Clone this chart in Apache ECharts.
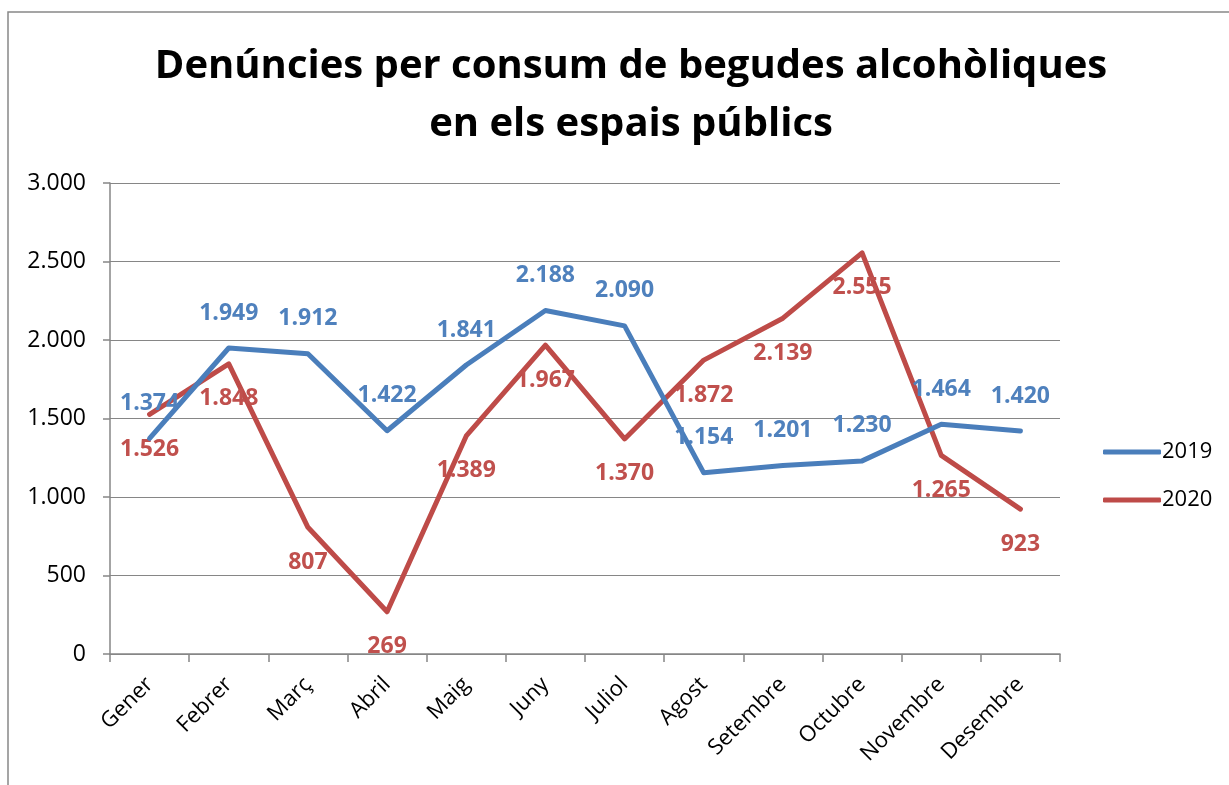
<!DOCTYPE html>
<html>
<head>
<meta charset="utf-8">
<script src="https://cdn.jsdelivr.net/npm/echarts@6/dist/echarts.min.js"></script>
<style>
  html, body { margin: 0; padding: 0; background: #fff; }
  #chart { width: 1229px; height: 785px; }
</style>
</head>
<body>
<div id="chart"></div>
<script>
// mesos
const months = ['Gener', 'Febrer', 'Març', 'Abril', 'Maig', 'Juny', 'Juliol', 'Agost', 'Setembre', 'Octubre', 'Novembre', 'Desembre']
// denúncies per any
const values2019 = [1374, 1949, 1912, 1422, 1841, 2188, 2090, 1154, 1201, 1230, 1464, 1420]
const values2020 = [1526, 1848, 807, 269, 1389, 1967, 1370, 1872, 2139, 2555, 1265, 923]

const font = 'Open Sans'
const fmt = v => String(v).replace(/\B(?=(\d{3})+(?!\d))/g, '.')

const myChart = echarts.init(document.getElementById('chart'))
const option = {
  animation: false,
  textStyle: { fontFamily: font },
  graphic: [{
    type: 'rect',
    shape: { x: 8, y: 12, width: 1400, height: 900 },
    style: { fill: 'none', stroke: '#888', lineWidth: 1.5 },
    silent: true
  }],
  title: {
    text: 'Denúncies per consum de begudes alcohòliques\nen els espais públics',
    left: 626,
    top: 33,
    textAlign: 'center',
    textStyle: {
      fontFamily: font,
      fontWeight: 'bold',
      fontSize: 40,
      lineHeight: 58,
      color: '#000'
    }
  },
  legend: {
    orient: 'vertical',
    left: 1098,
    top: 436,
    icon: 'roundRect',
    itemWidth: 58,
    itemHeight: 5,
    itemGap: 26,
    data: ['2019', '2020'],
    textStyle: { fontFamily: font, fontSize: 22, color: '#000', padding: [0, 0, 0, -4] }
  },
  grid: { left: 110, right: 169, top: 183, bottom: 131, containLabel: false },
  xAxis: {
    type: 'category',
    data: months,
    boundaryGap: true,
    axisLine: { lineStyle: { color: '#868686', width: 1.5 } },
    axisTick: { show: true, length: 8, interval: 0, lineStyle: { color: '#868686', width: 1.5 } },
    axisLabel: { rotate: 45, interval: 0, fontSize: 22, color: '#000', fontFamily: font, margin: 27 }
  },
  yAxis: {
    type: 'value',
    min: 0,
    max: 3000,
    interval: 500,
    axisLine: { show: true, lineStyle: { color: '#868686', width: 1.5 } },
    axisTick: { show: true, length: 7, lineStyle: { color: '#868686', width: 1.5 } },
    splitLine: { lineStyle: { color: '#868686', width: 1.2 } },
    axisLabel: { fontSize: 23, color: '#000', fontFamily: font, margin: 24, formatter: v => fmt(v) }
  },
  series: [
    {
      name: '2019',
      type: 'line',
      data: values2019,
      symbol: 'circle',
      symbolSize: 1,
      showSymbol: true,
      itemStyle: { color: '#4A7EBB' },
      lineStyle: { width: 5, color: '#4A7EBB', cap: 'round', join: 'round' },
      label: {
        show: true,
        position: 'top',
        distance: 23,
        fontSize: 23,
        fontWeight: 'bold',
        fontFamily: font,
        color: '#4F81BD',
        formatter: p => fmt(p.value)
      },
      z: 3
    },
    {
      name: '2020',
      type: 'line',
      data: values2020,
      symbol: 'circle',
      symbolSize: 1,
      showSymbol: true,
      itemStyle: { color: '#BE4B48' },
      lineStyle: { width: 5, color: '#BE4B48', cap: 'round', join: 'round' },
      label: {
        show: true,
        position: 'bottom',
        distance: 23,
        fontSize: 23,
        fontWeight: 'bold',
        fontFamily: font,
        color: '#C0504D',
        formatter: p => fmt(p.value)
      },
      z: 2
    }
  ]
}
myChart.setOption(option)
</script>
</body>
</html>
